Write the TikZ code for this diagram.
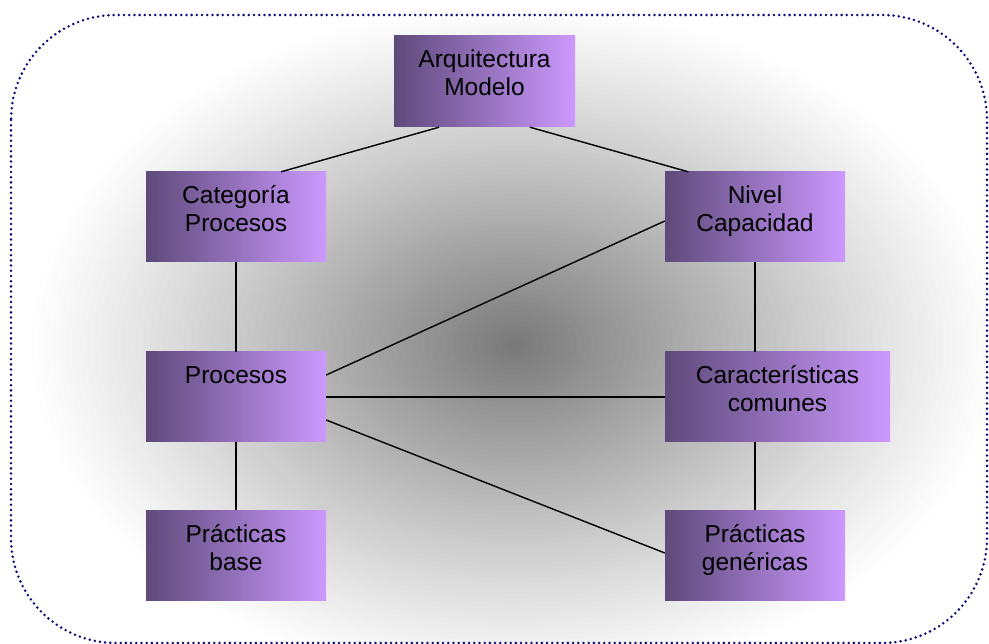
\documentclass[tikz,border=0pt]{standalone}
\usepackage{fontspec}
\setmainfont{Liberation Sans}
\usetikzlibrary{calc}

\definecolor{boxdark}{HTML}{5E4A7A}
\definecolor{boxlight}{HTML}{CC99FF}
\definecolor{framecol}{RGB}{10,10,120}

\tikzset{
  box/.style={rectangle, inner sep=0pt, shading=axis, left color=boxdark,
    right color=boxlight, shading angle=90,
    minimum width=180pt, minimum height=90pt},
  lbl/.style={anchor=north, inner sep=0pt, align=center, text=black,
    font=\fontsize{24.5}{28}\selectfont},
  link/.style={draw=black, line width=1.4pt},
  frame/.style={draw=framecol, line width=2.8pt, line cap=round,
    dash pattern=on 0pt off 5.2pt, rounded corners=105pt}
}
\newcommand{\firstline}{\rule{0pt}{24pt}}

\begin{document}
\begin{tikzpicture}[x=1pt, y=-1pt]
  \useasboundingbox (0,0) rectangle (989,644);

  % background glow, built from concentric ellipses inside the rounded frame
  \begin{scope}
    \clip[rounded corners=105pt] (11,15) rectangle (987,643);
    \foreach \i in {0,...,70} {
      \pgfmathsetmacro\rr{1-\i/71}
      \pgfmathsetmacro\kk{53*(1-\rr)^1.1}
      \fill[black!\kk] (515,345) ellipse [x radius=490*\rr, y radius=345*\rr];
    }
  \end{scope}
  \path[frame] (11,15) rectangle (987,643);

  % boxes
  \node[box, minimum width=181pt, minimum height=91pt] (arq) at (484.5,81.5) {};
  \node[box] (cat)  at (236,217) {};
  \node[box] (niv)  at (755,217) {};
  \node[box] (proc) at (236,397) {};
  \node[box, minimum width=225pt] (car) at (777.5,397) {};
  \node[box] (pb)   at (236,555) {};
  \node[box] (pg)   at (755,555) {};

  % box texts
  \node[lbl] (tarq)  at ($(arq.north)+(0,8)$)  {\firstline Arquitectura\\Modelo};
  \node[lbl] (tcat)  at ($(cat.north)+(0,8)$)  {\firstline Categoría\\Procesos};
  \node[lbl] (tniv)  at ($(niv.north)+(0,8)$)  {\firstline Nivel\\Capacidad};
  \node[lbl] (tproc) at ($(proc.north)+(0,8)$) {\firstline Procesos};
  \node[lbl] (tcar)  at ($(car.north)+(0,8)$)  {\firstline Características\\comunes};
  \node[lbl] (tpb)   at ($(pb.north)+(0,8)$)   {\firstline Prácticas\\base};
  \node[lbl] (tpg)   at ($(pg.north)+(0,8)$)   {\firstline Prácticas\\genéricas};

  % connectors
  \draw[link] ($(arq.south west)!0.25!(arq.south east)$) -- ($(cat.north west)!0.75!(cat.north east)$);
  \draw[link] ($(arq.south west)!0.75!(arq.south east)$) -- ($(niv.north west)!0.13!(niv.north east)$);
  \draw[link] (cat.south) -- (proc.north);
  \draw[link] (proc.south) -- (pb.north);
  \draw[link] (niv.south) -- (niv.south |- car.north);
  \draw[link] (pg.north |- car.south) -- (pg.north);
  \draw[link] ($(proc.east)+(0,-22)$) -- ($(niv.west)+(0,4)$);
  \draw[link] (proc.east) -- (car.west);
  \draw[link] ($(proc.east)+(0,23)$) -- ($(pg.west)+(0,-2)$);
\end{tikzpicture}
\end{document}
